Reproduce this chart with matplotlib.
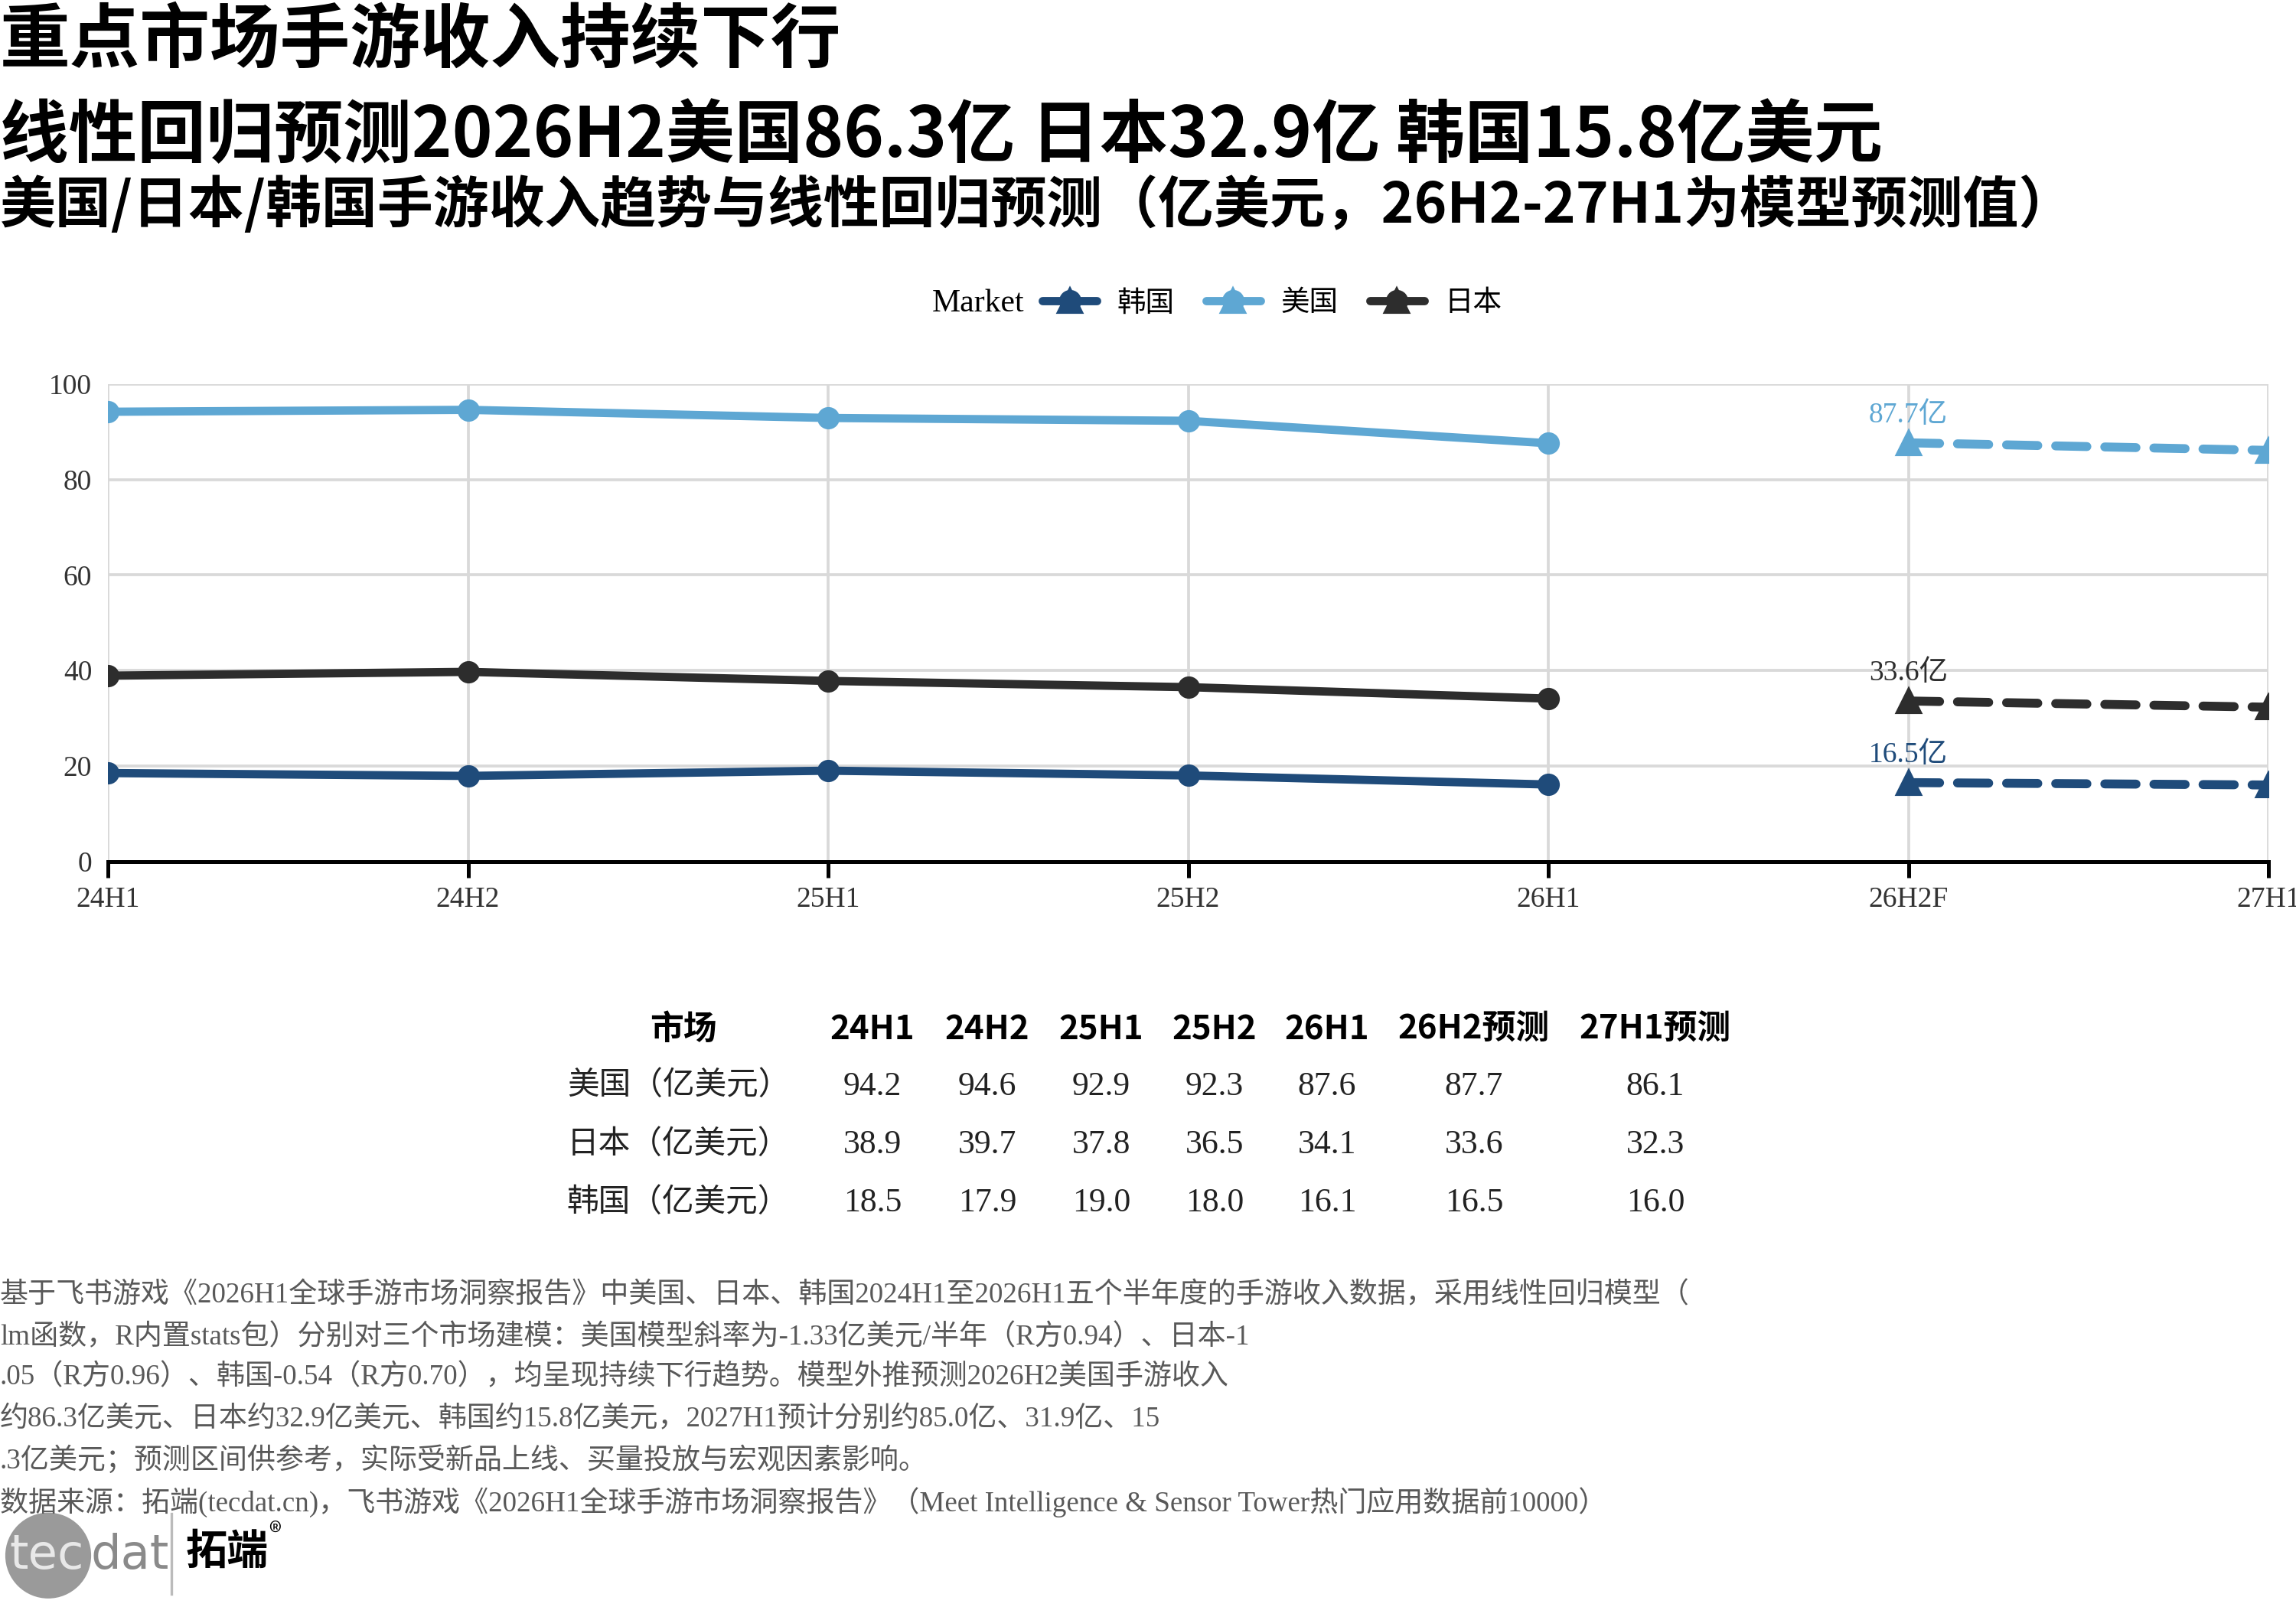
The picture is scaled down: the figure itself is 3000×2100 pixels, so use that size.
import matplotlib
matplotlib.use("Agg")
import matplotlib.pyplot as plt
from matplotlib.lines import Line2D
from matplotlib.legend_handler import HandlerTuple
from matplotlib.patches import Ellipse

plt.rcParams['font.family'] = ['Noto Sans CJK SC', 'DejaVu Sans']
SERIF = ['Liberation Serif', 'Noto Sans CJK SC']

# ---------- Data ----------
periods = ["24H1", "24H2", "25H1", "25H2", "26H1", "26H2F", "27H1"]
actual_idx = [0, 1, 2, 3, 4]
forecast_idx = [5, 6]

us_actual = [94.2, 94.6, 92.9, 92.3, 87.6]
jp_actual = [38.9, 39.7, 37.8, 36.5, 34.1]
kr_actual = [18.5, 17.9, 19.0, 18.0, 16.1]

us_fc = [87.7, 86.1]
jp_fc = [33.6, 32.3]
kr_fc = [16.5, 16.0]

table_cols = ["24H1", "24H2", "25H1", "25H2", "26H1", "26H2预测", "27H1预测"]
table_rows = ["美国（亿美元）", "日本（亿美元）", "韩国（亿美元）"]
table_vals = [us_actual + us_fc, jp_actual + jp_fc, kr_actual + kr_fc]

footer_lines = [
    "基于飞书游戏《2026H1全球手游市场洞察报告》中美国、日本、韩国2024H1至2026H1五个半年度的手游收入数据，采用线性回归模型（",
    "lm函数，R内置stats包）分别对三个市场建模：美国模型斜率为-1.33亿美元/半年（R方0.94）、日本-1",
    ".05（R方0.96）、韩国-0.54（R方0.70），均呈现持续下行趋势。模型外推预测2026H2美国手游收入",
    "约86.3亿美元、日本约32.9亿美元、韩国约15.8亿美元，2027H1预计分别约85.0亿、31.9亿、15",
    ".3亿美元；预测区间供参考，实际受新品上线、买量投放与宏观因素影响。",
    "数据来源：拓端(tecdat.cn)，飞书游戏《2026H1全球手游市场洞察报告》（Meet Intelligence & Sensor Tower热门应用数据前10000）",
]

# ---------- Colors ----------
C_KR = "#1f4b7a"
C_US = "#5ea7d3"
C_JP = "#2d2d2d"

fig = plt.figure(figsize=(10, 7), dpi=300)

# ---------- Titles ----------
fig.text(0.0, 0.997, "重点市场手游收入持续下行", fontsize=22, fontweight='bold', va='top', ha='left')
fig.text(0.0, 0.937, "线性回归预测2026H2美国86.3亿 日本32.9亿 韩国15.8亿美元", fontsize=21.5,
         fontweight='bold', va='top', ha='left')
fig.text(0.0, 0.890, "美国/日本/韩国手游收入趋势与线性回归预测（亿美元，26H2-27H1为模型预测值）",
         fontsize=17.5, fontweight='bold', va='top', ha='left')

# ---------- Main chart ----------
ax = fig.add_axes([0.047, 0.464, 0.941, 0.297])

series = [
    ("韩国", kr_actual, kr_fc, C_KR),
    ("美国", us_actual, us_fc, C_US),
    ("日本", jp_actual, jp_fc, C_JP),
]

handles = []
for name, act, fc, col in series:
    ax.plot(actual_idx, act, color=col, lw=2.6, marker='o', ms=6, zorder=3)
    ax.plot(forecast_idx, fc, color=col, lw=2.8, ls=(0, (3.5, 2)), dash_capstyle='round',
            marker='^', ms=7, zorder=3)
    ax.text(forecast_idx[0], fc[0] + 3, f"{fc[0]:.1f}亿", color=col, fontsize=9,
            ha='center', va='bottom', family=SERIF)
    h1 = Line2D([], [], color=col, lw=2.6, marker='o', ms=6, solid_capstyle='round')
    h2 = Line2D([], [], color=col, lw=0, marker='^', ms=7)
    handles.append((h1, h2))

ax.set_xlim(0, 6)
ax.set_ylim(0, 100)
ax.set_xticks(range(len(periods)))
ax.set_xticklabels(periods, family=SERIF, fontsize=9, color="#333333")
ax.set_yticks([0, 20, 40, 60, 80, 100])
ax.set_yticklabels(["0", "20", "40", "60", "80", "100"], family=SERIF, fontsize=9, color="#333333")
ax.grid(True, color="#d9d9d9", lw=0.9)
ax.set_axisbelow(True)
for s in ["top", "right", "left"]:
    ax.spines[s].set_visible(False)
ax.spines["bottom"].set_color("black")
ax.spines["bottom"].set_linewidth(1.2)
ax.tick_params(axis='y', length=0, pad=5)
ax.tick_params(axis='x', length=5, width=1.2, color='black', pad=3)

# ---------- Legend ----------
fig.text(0.446, 0.811, "Market", family=SERIF, fontsize=10, ha='right', va='center')
fig.legend(handles, [s[0] for s in series], handler_map={tuple: HandlerTuple(ndivide=1)},
           loc='center left', bbox_to_anchor=(0.454, 0.811), ncol=3, frameon=False,
           borderpad=0, borderaxespad=0,
           handlelength=1.9, columnspacing=1.1, handletextpad=0.7,
           prop={'family': SERIF, 'size': 9})

# ---------- Table ----------
col_x = [0.380, 0.430, 0.4797, 0.529, 0.578, 0.642, 0.721]
row_label_x = 0.2955
header_y = 0.3595
row_y = [0.324, 0.2876, 0.2514]

fig.text(0.2977, header_y, "市场", fontsize=10.5, fontweight='bold', ha='center', va='center')
for x, c in zip(col_x, table_cols):
    fig.text(x, header_y, c, fontsize=10.5, fontweight='bold', ha='center', va='center')
for y, lab, vals in zip(row_y, table_rows, table_vals):
    fig.text(row_label_x, y, lab, fontsize=10, ha='center', va='center', family=SERIF, color="#222222")
    for x, v in zip(col_x, vals):
        fig.text(x, y, f"{v:.1f}", fontsize=10.5, ha='center', va='center', family=SERIF, color="#222222")

# ---------- Footer ----------
foot_y = [0.194, 0.168, 0.1428, 0.117, 0.0914, 0.0652]
for y, line in zip(foot_y, footer_lines):
    fig.text(0.0, y, line, fontsize=8.9, ha='left', va='center', family=SERIF, color="#595959")

# ---------- Logo ----------
fig.patches.append(Ellipse((0.021, 0.032), 0.036, 0.0514, transform=fig.transFigure,
                           color="#9a9a9a", zorder=1))
fig.text(0.004, 0.032, "tec", fontsize=15, color="#e8e8e8", ha='left', va='center',
         family=['DejaVu Sans'], zorder=2)
fig.text(0.0395, 0.032, "dat", fontsize=15, color="#8a8a8a", ha='left', va='center',
         family=['DejaVu Sans'], zorder=2)
fig.lines.append(Line2D([0.0745, 0.0745], [0.008, 0.058], transform=fig.transFigure,
                        color="#bbbbbb", lw=0.8))
fig.text(0.081, 0.034, "拓端", fontsize=13, fontweight='bold', ha='left', va='center')
fig.text(0.117, 0.045, "®", fontsize=8, ha='left', va='center')

fig.savefig("out.png", dpi=300)
